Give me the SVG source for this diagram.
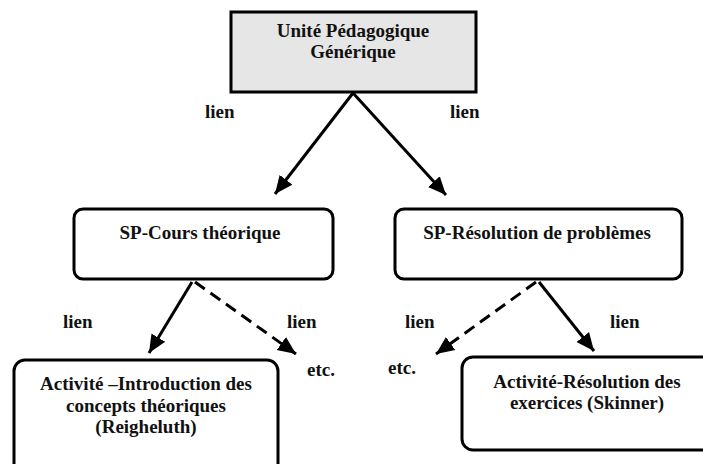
<svg xmlns="http://www.w3.org/2000/svg" width="703" height="464" viewBox="0 0 703 464">
<style>
text{font-family:"Liberation Serif","Times New Roman",serif;font-weight:bold;font-size:19px;fill:#111;}
.c{text-anchor:middle;}
.box{fill:#fff;stroke:#000;stroke-width:3;}
.edge{stroke:#000;stroke-width:3;fill:none;}
.dash{stroke-dasharray:12,7;}
</style>
<defs>
<marker id="ah" markerUnits="userSpaceOnUse" markerWidth="20" markerHeight="20" viewBox="0 0 20 20" refX="18" refY="10" orient="auto">
<path d="M0,2 L18,10 L0,18 Z" fill="#000"/>
</marker>
</defs>
<rect width="703" height="464" fill="#fff"/>
<g id="connectors">
<line class="edge" x1="353" y1="93" x2="275" y2="194" marker-end="url(#ah)"/>
<line class="edge" x1="353" y1="93" x2="446" y2="195" marker-end="url(#ah)"/>
<line class="edge" x1="192" y1="282" x2="149" y2="353" marker-end="url(#ah)"/>
<line class="edge dash" x1="195" y1="282" x2="296" y2="354" marker-end="url(#ah)"/>
<line class="edge dash" x1="536" y1="282" x2="436" y2="354" marker-end="url(#ah)"/>
<line class="edge" x1="539" y1="282" x2="594" y2="351" marker-end="url(#ah)"/>
<text x="205" y="118">lien</text>
<text x="450" y="118">lien</text>
<text x="63" y="328">lien</text>
<text x="287" y="328">lien</text>
<text x="307" y="376">etc.</text>
<text x="405" y="328">lien</text>
<text x="610" y="328">lien</text>
<text x="388" y="374">etc.</text>
</g>
<g id="n-upg">
<rect x="231" y="12" width="245" height="80" fill="#e6e6e6" stroke="#000" stroke-width="3"/>
<text class="c" x="353" y="37">Unité Pédagogique</text>
<text class="c" x="353" y="58">Générique</text>
</g>
<g id="n-cours">
<rect class="box" x="74" y="209" width="259" height="70" rx="9"/>
<text class="c" x="200" y="239">SP-Cours théorique</text>
</g>
<g id="n-resolution">
<rect class="box" x="395" y="209" width="287" height="70" rx="9"/>
<text class="c" x="537" y="239">SP-Résolution de problèmes</text>
</g>
<g id="n-intro">
<rect class="box" x="14" y="360" width="264" height="120" rx="11"/>
<text class="c" x="146" y="390">Activité –Introduction des</text>
<text class="c" x="146" y="412">concepts théoriques</text>
<text class="c" x="146" y="433">(Reigheluth)</text>
</g>
<g id="n-exercices">
<rect class="box" x="462" y="357" width="260" height="93" rx="11"/>
<text class="c" x="587" y="388">Activité-Résolution des</text>
<text class="c" x="587" y="409">exercices (Skinner)</text>
</g>
</svg>
